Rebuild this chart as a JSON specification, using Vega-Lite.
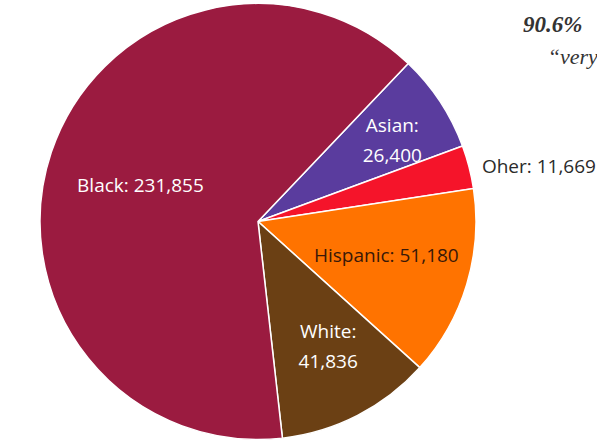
{
  "$schema": "https://vega.github.io/schema/vega-lite/v6.json",
  "width": 516,
  "height": 443,
  "autosize": {"type": "none"},
  "padding": {"left": 0, "top": 0, "right": 81, "bottom": 0},
  "background": "white",
  "config": {"view": {"stroke": null}, "text": {"font": "Open Sans", "lineBreak": "\n", "lineHeight": 30}},
  "layer": [
    {
      "data": {"values": [
        {"group": "Asian", "count": 26400, "label": "Asian:\n26,400", "rank": 1},
        {"group": "Other", "count": 11669, "label": "Oher: 11,669", "rank": 2},
        {"group": "Hispanic", "count": 51180, "label": "Hispanic: 51,180", "rank": 3},
        {"group": "White", "count": 41836, "label": "White:\n41,836", "rank": 4},
        {"group": "Black", "count": 231855, "label": "Black: 231,855", "rank": 5}
      ]},
      "encoding": {
        "theta": {"field": "count", "type": "quantitative", "stack": true, "scale": {"range": [0.76, 7.0432]}},
        "order": {"field": "rank", "type": "ordinal"}
      },
      "layer": [
        {
          "mark": {"type": "arc", "outerRadius": 218, "stroke": "white", "strokeWidth": 1.5},
          "encoding": {
            "color": {"field": "group", "type": "nominal", "legend": null,
              "scale": {"domain": ["Asian", "Other", "Hispanic", "White", "Black"],
                        "range": ["#5a3c9e", "#f5142a", "#ff7300", "#6b4014", "#9b1b40"]}}
          }
        },
        {
          "mark": {"type": "text", "fontSize": 19, "radius": 124, "dy": 4, "color": "white"},
          "encoding": {"text": {"condition": {"test": "datum.group === 'Black'", "field": "label"}, "value": ""}}
        },
        {
          "mark": {"type": "text", "fontSize": 19, "radius": 156, "dx": 4, "dy": -10, "color": "white"},
          "encoding": {"text": {"condition": {"test": "datum.group === 'Asian'", "field": "label"}, "value": ""}}
        },
        {
          "mark": {"type": "text", "fontSize": 19, "radius": 285, "dx": 5, "dy": 17, "color": "#2a2a2a"},
          "encoding": {"text": {"condition": {"test": "datum.group === 'Other'", "field": "label"}, "value": ""}}
        },
        {
          "mark": {"type": "text", "fontSize": 19, "radius": 134, "dy": -4, "color": "#3a1808"},
          "encoding": {"text": {"condition": {"test": "datum.group === 'Hispanic'", "field": "label"}, "value": ""}}
        },
        {
          "mark": {"type": "text", "fontSize": 19, "radius": 145, "dx": 4, "dy": -18, "color": "white"},
          "encoding": {"text": {"condition": {"test": "datum.group === 'White'", "field": "label"}, "value": ""}}
        }
      ]
    },
    {
      "data": {"values": [{"note": "90.6%"}]},
      "mark": {"type": "text", "font": "Liberation Serif", "fontStyle": "italic", "fontWeight": "bold", "align": "left", "color": "#333333", "radius": 330, "theta": 0.932},
      "encoding": {"text": {"field": "note"}, "size": {"value": 23}}
    },
    {
      "data": {"values": [{"note": "“very"}]},
      "mark": {"type": "text", "font": "Liberation Serif", "fontStyle": "italic", "align": "left", "color": "#333333", "radius": 331, "theta": 1.066, "dy": -4},
      "encoding": {"text": {"field": "note"}, "size": {"value": 22}}
    }
  ]
}
